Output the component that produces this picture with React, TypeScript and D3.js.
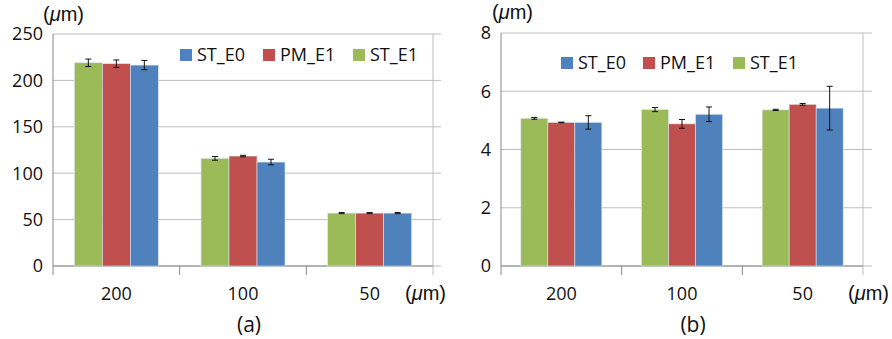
import React from 'react';
import * as d3 from 'd3';

const categories = ['200', '100', '50'];
const seriesNames = ['ST_E1', 'PM_E1', 'ST_E0'];
const seriesColors = ['#9BBB59', '#C0504D', '#4F81BD'];
const legendOrder = ['ST_E0', 'PM_E1', 'ST_E1'];

// panel (a)
const aValues = [
  [219, 116, 57],
  [218, 118.5, 57],
  [216.5, 112, 57],
];
const aErrors = [
  [4, 2, 0.6],
  [4, 0.8, 0.6],
  [5, 3, 0.6],
];
const aTicks = [0, 50, 100, 150, 200, 250];

// panel (b)
const bValues = [
  [5.07, 5.37, 5.36],
  [4.93, 4.88, 5.55],
  [4.93, 5.21, 5.42],
];
const bErrors = [
  [0.03, 0.07, 0.02],
  [0.01, 0.15, 0.03],
  [0.23, 0.25, 0.75],
];
const bTicks = [0, 2, 4, 6, 8];

const FONT = "'Open Sans', sans-serif";
const UNIT_FONT = "'Liberation Sans', sans-serif";
const FS = 18;

interface PanelProps {
  left: number;
  right: number;
  gridRight: number;
  top: number;
  bottom: number;
  max: number;
  ticks: number[];
  values: number[][];
  errors: number[][];
  barW: number;
  legendX: number[];
  legendY: number;
  unitX: number;
  unitY: number;
  xUnitX: number;
  caption: string;
  captionX: number;
}

const Unit: React.FC<{ x: number; y: number }> = ({ x, y }) => (
  <text x={x} y={y} fontSize={20} fontFamily={UNIT_FONT} fill="#111">
    (<tspan fontStyle="italic">μ</tspan>m)
  </text>
);

const Panel: React.FC<PanelProps> = (p) => {
  const y = d3.scaleLinear().domain([0, p.max]).range([p.bottom, p.top]);
  const x = d3.scaleBand<string>().domain(categories).range([p.left, p.right]);
  const inner = d3
    .scaleBand<string>()
    .domain(seriesNames)
    .range([0, p.barW * 3]);
  const pad = (x.bandwidth() - p.barW * 3) / 2;
  const tickXs = categories.map((c) => (x(c) || 0) + x.bandwidth());

  return (
    <g>
      {p.ticks.map((t) => (
        <line key={'g' + t} x1={p.left} x2={p.gridRight} y1={y(t)} y2={y(t)} stroke="#BEBEBE" strokeWidth={1} />
      ))}
      <line x1={p.right} x2={p.right} y1={p.top} y2={p.bottom + 9} stroke="#BEBEBE" />
      <line x1={p.left} x2={p.left} y1={p.top} y2={p.bottom + 9} stroke="#888" />
      <line x1={p.left} x2={p.right} y1={p.bottom} y2={p.bottom} stroke="#888" />
      {tickXs.slice(0, -1).map((tx, i) => (
        <line key={'t' + i} x1={tx} x2={tx} y1={p.bottom} y2={p.bottom + 9} stroke="#888" />
      ))}
      {p.ticks.map((t) => (
        <text key={'l' + t} x={p.left - 10} y={y(t)} dy="0.35em" textAnchor="end" fontSize={FS} fontFamily={FONT} fill="#111">
          {t}
        </text>
      ))}
      {seriesNames.map((s, si) =>
        categories.map((c, ci) => {
          const bx = (x(c) || 0) + pad + (inner(s) || 0);
          const v = p.values[si][ci];
          const e = p.errors[si][ci];
          const cx = bx + p.barW / 2;
          return (
            <g key={s + c}>
              <rect x={bx} y={y(v)} width={p.barW} height={p.bottom - y(v)} fill={seriesColors[si]} stroke="#DCE6F2" strokeWidth={0.6} />
              <line x1={cx} x2={cx} y1={y(v + e)} y2={y(v - e)} stroke="#111" strokeWidth={1} />
              <line x1={cx - 3} x2={cx + 3} y1={y(v + e)} y2={y(v + e)} stroke="#111" strokeWidth={1} />
              <line x1={cx - 3} x2={cx + 3} y1={y(v - e)} y2={y(v - e)} stroke="#111" strokeWidth={1} />
            </g>
          );
        })
      )}
      {categories.map((c) => (
        <text key={'c' + c} x={(x(c) || 0) + x.bandwidth() / 2} y={p.bottom + 28} dy="0.35em" textAnchor="middle" fontSize={FS} fontFamily={FONT} fill="#111">
          {c}
        </text>
      ))}
      {legendOrder.map((s, i) => {
        const si = seriesNames.indexOf(s);
        return (
          <g key={'lg' + s} transform={`translate(${p.legendX[i]},${p.legendY})`}>
            <rect x={0} y={-6} width={12} height={12} fill={seriesColors[si]} />
            <text x={17} y={0} dy="0.35em" fontSize={FS} fontFamily={FONT} fill="#111">
              {s}
            </text>
          </g>
        );
      })}
      <Unit x={p.unitX} y={p.unitY} />
      <Unit x={p.xUnitX} y={p.bottom + 34} />
      <text x={p.captionX} y={p.bottom + 66} textAnchor="middle" fontSize={21} fontFamily={FONT} fill="#111">
        {p.caption}
      </text>
    </g>
  );
};

const App: React.FC = () => (
  <svg width={892} height={339} style={{ display: 'block', position: 'absolute', left: 0, top: 0, background: '#fff' }}>
    <Panel
      left={53}
      right={433}
      gridRight={441}
      top={34}
      bottom={266}
      max={250}
      ticks={aTicks}
      values={aValues}
      errors={aErrors}
      barW={28}
      legendX={[180, 263, 353]}
      legendY={55}
      unitX={43}
      unitY={21}
      xUnitX={405}
      caption="(a)"
      captionX={249}
    />
    <Panel
      left={501}
      right={863}
      gridRight={872}
      top={33}
      bottom={266}
      max={8}
      ticks={bTicks}
      values={bValues}
      errors={bErrors}
      barW={27}
      legendX={[561, 643, 733]}
      legendY={63}
      unitX={492}
      unitY={18.5}
      xUnitX={848}
      caption="(b)"
      captionX={693}
    />
  </svg>
);

export default App;
